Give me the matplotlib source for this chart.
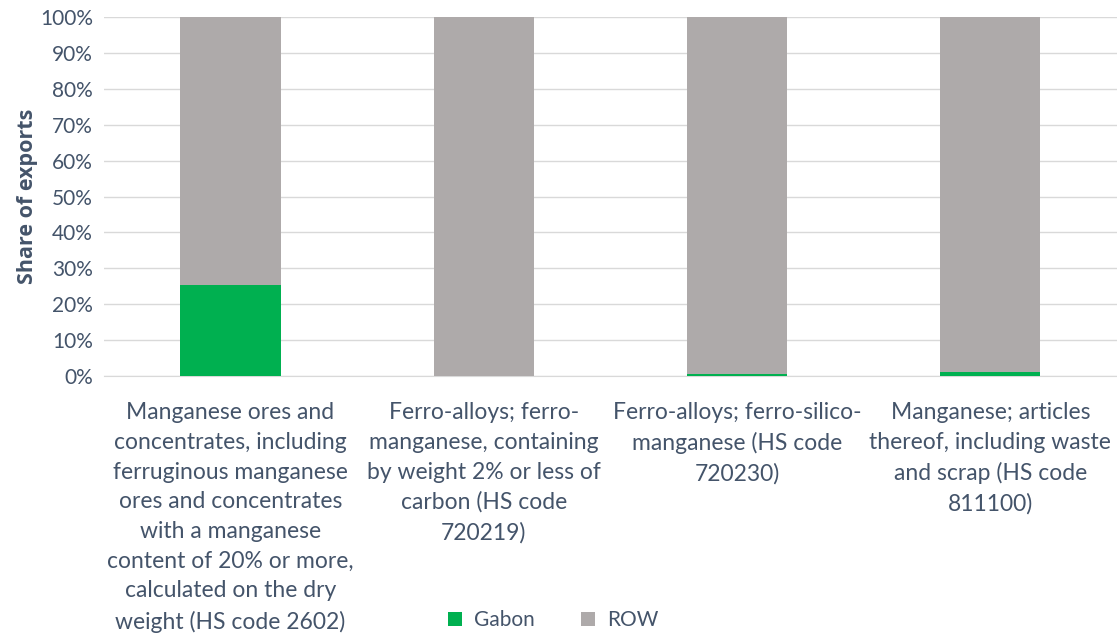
import matplotlib
matplotlib.use("Agg")
import matplotlib.pyplot as plt
import numpy as np
from matplotlib.ticker import PercentFormatter

categories = [
    "Manganese ores and\nconcentrates, including\nferruginous manganese\nores and concentrates\nwith a manganese\ncontent of 20% or more,\ncalculated on the dry\nweight (HS code 2602)",
    "Ferro-alloys; ferro-\nmanganese, containing\nby weight 2% or less of\ncarbon (HS code\n720219)",
    "Ferro-alloys; ferro-silico-\nmanganese (HS code\n720230)",
    "Manganese; articles\nthereof, including waste\nand scrap (HS code\n811100)",
]
gabon = [25.2, 0.0, 0.5, 1.0]
row = [100 - g for g in gabon]

plt.rcParams['font.family'] = ['Lato', 'DejaVu Sans']
text_color = '#44546A'

fig = plt.figure(figsize=(11.17, 6.38), dpi=100)
ax = fig.add_axes([0.093, 0.411, 0.907, 0.562])

x = np.arange(len(categories))
w = 0.395
ax.bar(x, gabon, w, color='#00B050', label='Gabon', zorder=3)
ax.bar(x, row, w, bottom=gabon, color='#AEAAAA', label='ROW', zorder=3)

ax.set_xlim(-0.5, 3.5)
ax.set_ylim(0, 100)
ax.set_yticks(np.arange(0, 101, 10))
ax.yaxis.set_major_formatter(PercentFormatter(decimals=0))
ax.grid(axis='y', color='#D9D9D9', linewidth=1, zorder=0)
for s in ['top', 'right', 'left']:
    ax.spines[s].set_visible(False)
ax.spines['bottom'].set_color('#D9D9D9')
ax.tick_params(axis='y', length=0, labelsize=15, labelcolor=text_color, pad=8)
ax.tick_params(axis='x', length=0, labelsize=16.5, labelcolor=text_color, pad=19)
ax.set_xticks(x)
ax.set_xticklabels(categories, va='top', ha='center', linespacing=1.51)
ax.set_ylabel('Share of exports', fontsize=15.5, fontweight='bold', color=text_color,
              labelpad=1, family=['Open Sans', 'DejaVu Sans'])

fig.legend(loc='center', bbox_to_anchor=(0.495, 0.028), ncol=2, frameon=False,
           fontsize=15, labelcolor=text_color, handlelength=0.68, handleheight=0.68,
           columnspacing=2.2, handletextpad=0.58)

fig.savefig('out.png', dpi=100)
